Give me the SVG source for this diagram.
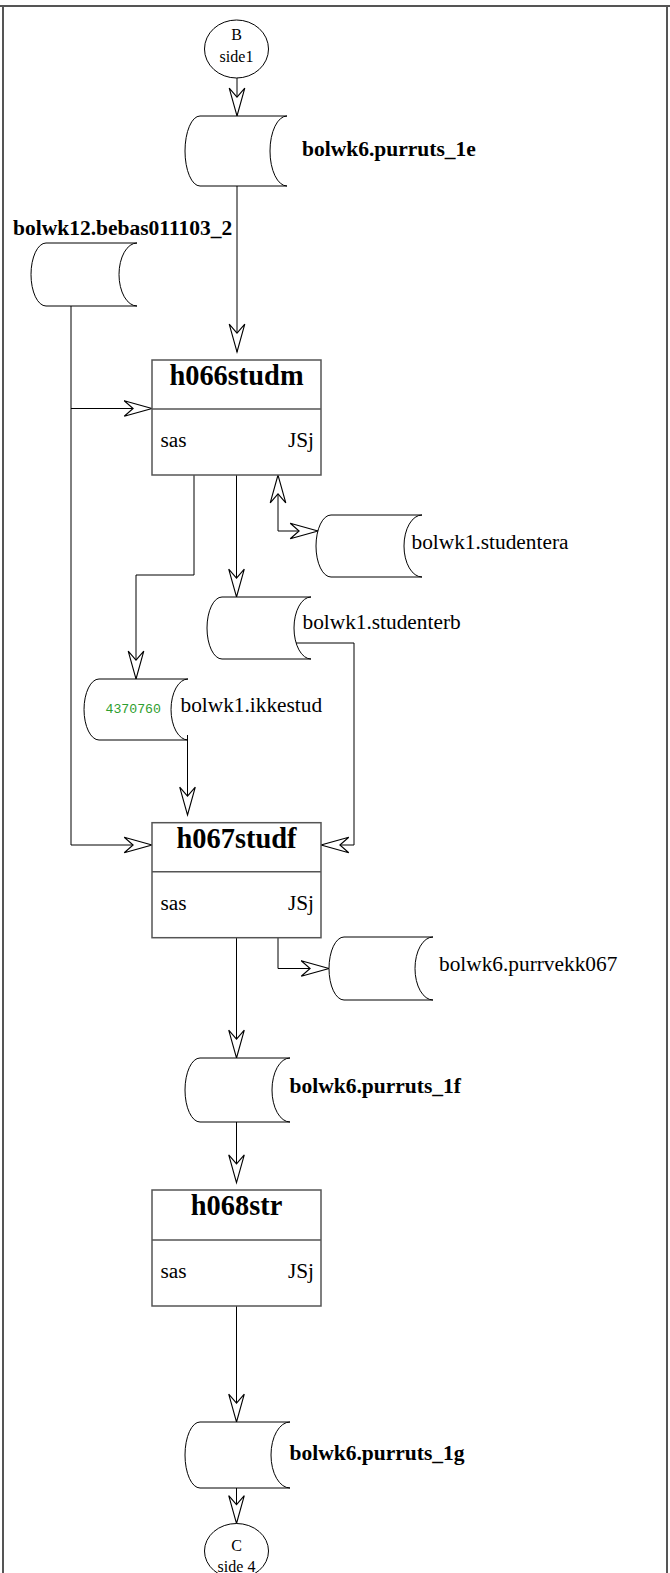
<svg xmlns="http://www.w3.org/2000/svg" width="670" height="1573" viewBox="0 0 670 1573">
<style>
.frame{fill:none;stroke:#555;stroke-width:2}
.conn{fill:none;stroke:#000;stroke-width:1;marker-end:url(#arr)}
.store{fill:#fff;stroke:#000;stroke-width:1}
.box{fill:#fff;stroke:#555;stroke-width:1.5}
.div{stroke:#555;stroke-width:1.5}
.lb{font-family:'Liberation Serif',serif;font-size:21.5px;font-weight:bold;fill:#000}
.lr{font-family:'Liberation Serif',serif;font-size:21.33px;fill:#000}
.title{font-family:'Liberation Serif',serif;font-size:28.4px;font-weight:bold;fill:#000;text-anchor:middle}
.sm{font-family:'Liberation Serif',serif;font-size:16px;fill:#000;text-anchor:middle}
.num{font-family:'Liberation Mono',monospace;font-size:13.2px;fill:#2e9e2e}
.circ{fill:#fff;stroke:#000;stroke-width:1}
</style>
<defs>
<marker id="arr" markerUnits="userSpaceOnUse" orient="auto-start-reverse" refX="0" refY="0" markerWidth="30" markerHeight="20" viewBox="-26 -8 27 16" overflow="visible">
<path d="M0,0 L-25,-7 L-17,0 L-25,7 Z" fill="#fff" stroke="#000" stroke-width="1" stroke-linejoin="miter"/>
</marker>
</defs>
<g id="frame">
<line class="frame" x1="0" y1="6" x2="670" y2="6"/>
<line class="frame" x1="3" y1="6" x2="3" y2="1573"/>
<line class="frame" x1="667" y1="6" x2="667" y2="1573"/>
</g>
<g id="connectors">
<path class="conn" d="M237,50 V116"/>
<path class="conn" d="M237,186 V352"/>
<path class="conn" d="M71,300 V845 H152"/>
<path class="conn" d="M71,408.5 H152"/>
<path class="conn" d="M194,475 V575 H136 V679"/>
<path class="conn" d="M236.5,475 V597"/>
<path class="conn" style="marker-start:url(#arr)" d="M278,475 V531 H318"/>
<path class="conn" d="M296,643 H354 V845 H321"/>
<path class="conn" d="M187.5,735 V815"/>
<path class="conn" d="M236.5,938 V1058"/>
<path class="conn" d="M278,938 V968.5 H329"/>
<path class="conn" d="M236.5,1122 V1182.7"/>
<path class="conn" d="M236.5,1306 V1422"/>
<path class="conn" d="M236.5,1488 V1523.5"/>
</g>
<g id="B">
<ellipse class="circ" cx="236.5" cy="49" rx="32" ry="29"/>
<text class="sm" x="236.5" y="39.5">B</text>
<text class="sm" x="236.5" y="61.5">side1</text>
</g>
<g id="purruts_1e">
<path class="store" d="M200,116 H287 A17 35 0 0 0 287,186 H200 A15 35 0 0 1 200,116 Z"/>
<text class="lb" x="302" y="155.5">bolwk6.purruts_1e</text>
</g>
<g id="bebas011103_2">
<path class="store" d="M46,243 H137 A18 31.5 0 0 0 137,306 H46 A15 31.5 0 0 1 46,243 Z"/>
<text class="lb" x="13" y="235">bolwk12.bebas011103_2</text>
</g>
<g id="h066studm">
<rect class="box" x="152" y="360" width="169" height="115"/>
<line class="div" x1="152" y1="409" x2="321" y2="409"/>
<text class="title" x="236.5" y="385">h066studm</text>
<text class="lr" x="160.5" y="447">sas</text>
<text class="lr" x="314" y="447" text-anchor="end">JSj</text>
</g>
<g id="studentera">
<path class="store" d="M331,515 H422 A18 31 0 0 0 422,577 H331 A15 31 0 0 1 331,515 Z"/>
<text class="lr" x="411.5" y="549">bolwk1.studentera</text>
</g>
<g id="studenterb">
<path class="store" d="M222,597 H311 A17 31 0 0 0 311,659 H222 A15 31 0 0 1 222,597 Z"/>
<text class="lr" x="302.5" y="629">bolwk1.studenterb</text>
</g>
<g id="ikkestud">
<path class="store" d="M99,679 H188 A17 30.5 0 0 0 188,740 H99 A15 30.5 0 0 1 99,679 Z"/>
<text class="num" x="105.5" y="713">4370760</text>
<text class="lr" x="180.5" y="711.5">bolwk1.ikkestud</text>
</g>
<g id="h067studf">
<rect class="box" x="152" y="822.7" width="169" height="115"/>
<line class="div" x1="152" y1="871.7" x2="321" y2="871.7"/>
<text class="title" x="236.5" y="848">h067studf</text>
<text class="lr" x="160.5" y="910">sas</text>
<text class="lr" x="314" y="910" text-anchor="end">JSj</text>
</g>
<g id="purrvekk067">
<path class="store" d="M344,937 H433 A18 31.5 0 0 0 433,1000 H344 A15 31.5 0 0 1 344,937 Z"/>
<text class="lr" x="439" y="970.5">bolwk6.purrvekk067</text>
</g>
<g id="purruts_1f">
<path class="store" d="M200,1058 H290 A18 32 0 0 0 290,1122 H200 A15 32 0 0 1 200,1058 Z"/>
<text class="lb" x="289.5" y="1093">bolwk6.purruts_1f</text>
</g>
<g id="h068str">
<rect class="box" x="152" y="1190" width="169" height="116"/>
<line class="div" x1="152" y1="1240" x2="321" y2="1240"/>
<text class="title" x="236.5" y="1215">h068str</text>
<text class="lr" x="160.5" y="1278">sas</text>
<text class="lr" x="314" y="1278" text-anchor="end">JSj</text>
</g>
<g id="purruts_1g">
<path class="store" d="M200,1422 H290 A19 33 0 0 0 290,1488 H200 A15 33 0 0 1 200,1422 Z"/>
<text class="lb" x="289.5" y="1460">bolwk6.purruts_1g</text>
</g>
<g id="C">
<ellipse class="circ" cx="236.5" cy="1551" rx="32" ry="27.5"/>
<text class="sm" x="236.5" y="1550.5">C</text>
<text class="sm" x="236.5" y="1572">side 4</text>
</g>
</svg>
